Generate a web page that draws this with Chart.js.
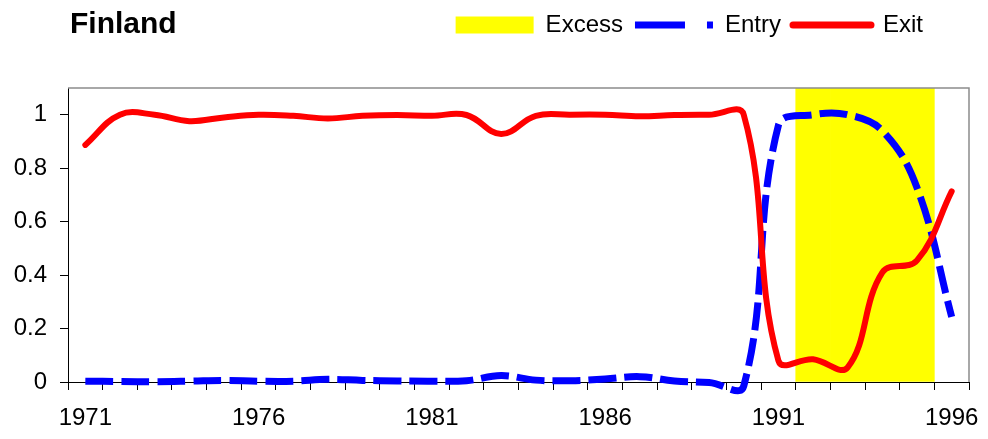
<!DOCTYPE html>
<html>
<head>
<meta charset="utf-8">
<script src="https://cdn.jsdelivr.net/npm/chart.js@4.4.1/dist/chart.umd.min.js"></script>
<style>
  html, body { margin: 0; padding: 0; background: #fff; }
  #wrap { position: relative; width: 988px; height: 439px; }
  #title {
    position: absolute; left: 70px; top: 8px;
    font: bold 30px Arial, "Liberation Sans", sans-serif;
    line-height: 30px; color: #000;
  }
</style>
</head>
<body>
<div id="wrap">
  <canvas id="chart" width="988" height="439"></canvas>
  <div id="title">Finland</div>
</div>
<script>
'use strict';

const years = [
  '1971', '1972', '1973', '1974', '1975', '1976', '1977', '1978', '1979',
  '1980', '1981', '1982', '1983', '1984', '1985', '1986', '1987', '1988',
  '1989', '1990', '1991', '1992', '1993', '1994', '1995', '1996'
];
const tickYears = [ '1971', '1976', '1981', '1986', '1991', '1996' ];

// Excess shading: the bar runs up to the top of the axis in the excess years
const excessValues = [
  null, null, null, null, null, null, null, null, null,
  null, null, null, null, null, null, null, null, null,
  null, null, null, 1.1, 1.1, 1.1, 1.1, null
];
const entryValues = [
  0.003, 0.002, 0.001, 0.003, 0.006, 0.003, 0.003, 0.01, 0.006,
  0.004, 0.003, 0.005, 0.024, 0.007, 0.005, 0.011, 0.02, 0.004,
  -0.002, -0.015, 0.96, 1.0, 1.0, 0.94, 0.727, 0.244
];
const exitValues = [
  0.887, 1.0, 1.0, 0.976, 0.99, 1.0, 0.996, 0.986, 0.996,
  0.999, 0.996, 0.999, 0.928, 0.996, 1.0, 1.0, 0.994, 0.999,
  1.0, 1.0, 0.08, 0.085, 0.055, 0.41, 0.455, 0.713
];

const FONT = 'Arial, "Liberation Sans", sans-serif';

// legend look for each series, in dataset order
const legendLook = [
  { pointStyle: 'rect', fillStyle: '#ffff00', strokeStyle: 'rgba(0,0,0,0)', lineWidth: 0 },
  { pointStyle: 'line', strokeStyle: '#0000ff', lineWidth: 7, lineDash: [50, 22, 6, 100], lineCap: 'butt' },
  { pointStyle: 'line', strokeStyle: '#ff0000', lineWidth: 7, lineCap: 'round' }
];

const layoutTweaks = {
  id: 'layoutTweaks',
  beforeInit(chart) {
    const fit = chart.legend.fit;
    chart.legend.fit = function() {
      fit.call(this);
      this.height = 87;
    };
  },
  afterLayout(chart) {
    chart.legend.right = 935;
  },
  afterDatasetsDraw(chart) {
    const { ctx, chartArea: a } = chart;
    ctx.save();
    ctx.strokeStyle = '#8c8c8c';
    ctx.lineWidth = 1.5;
    ctx.beginPath();
    ctx.moveTo(a.left, a.top);
    ctx.lineTo(a.right, a.top);
    ctx.lineTo(a.right, a.bottom);
    ctx.stroke();
    ctx.restore();
  }
};

new Chart(document.getElementById('chart'), {
  type: 'bar',
  data: {
    labels: years,
    datasets: [
      {
        type: 'bar',
        label: 'Excess',
        data: excessValues,
        backgroundColor: '#ffff00',
        borderWidth: 0,
        barPercentage: 1,
        categoryPercentage: 1,
        order: 3
      },
      {
        type: 'line',
        label: 'Entry',
        data: entryValues,
        borderColor: '#0000ff',
        backgroundColor: '#0000ff',
        borderWidth: 7,
        borderDash: [28, 8],
        tension: 0.4,
        pointRadius: 0,
        fill: false,
        clip: false,
        order: 2
      },
      {
        type: 'line',
        label: 'Exit',
        data: exitValues,
        borderColor: '#ff0000',
        backgroundColor: '#ff0000',
        borderWidth: 6,
        borderCapStyle: 'round',
        borderJoinStyle: 'round',
        tension: 0.4,
        pointRadius: 0,
        fill: false,
        clip: false,
        order: 1
      }
    ]
  },
  options: {
    responsive: false,
    animation: false,
    layout: { padding: { top: 1, right: 19, left: 0, bottom: 0 } },
    plugins: {
      tooltip: { enabled: false },
      title: { display: false },
      legend: {
        position: 'top',
        align: 'end',
        labels: {
          usePointStyle: true,
          pointStyleWidth: 78,
          boxHeight: 17,
          padding: 12,
          color: '#000',
          font: { family: FONT, size: 24 },
          sort: (a, b) => a.datasetIndex - b.datasetIndex,
          generateLabels(chart) {
            const items = Chart.defaults.plugins.legend.labels.generateLabels(chart);
            return items.map(item => Object.assign(item, legendLook[item.datasetIndex]));
          }
        }
      }
    },
    scales: {
      x: {
        type: 'category',
        offset: true,
        grid: {
          display: true,
          drawOnChartArea: false,
          offset: true,
          tickLength: 8,
          tickColor: '#000',
          tickWidth: 1
        },
        border: { display: true, color: '#000', width: 1 },
        ticks: {
          autoSkip: false,
          maxRotation: 0,
          color: '#000',
          padding: 14,
          font: { family: FONT, size: 24 },
          callback(value) {
            const label = this.getLabelForValue(value);
            return tickYears.includes(label) ? label : '';
          }
        },
        afterFit(scale) {
          scale.height = 57;
          scale.paddingLeft = 0;
          scale.paddingRight = 0;
        }
      },
      y: {
        min: 0,
        max: 1.1,
        grid: {
          drawOnChartArea: false,
          tickLength: 8,
          tickColor: '#000',
          tickWidth: 1
        },
        border: { display: true, color: '#000', width: 1 },
        ticks: {
          stepSize: 0.2,
          includeBounds: false,
          padding: 13,
          color: '#000',
          font: { family: FONT, size: 24 },
          callback: value => String(Number(value.toFixed(1)))
        },
        afterFit(scale) { scale.width = 68; }
      }
    }
  },
  plugins: [layoutTweaks]
});
</script>
</body>
</html>
